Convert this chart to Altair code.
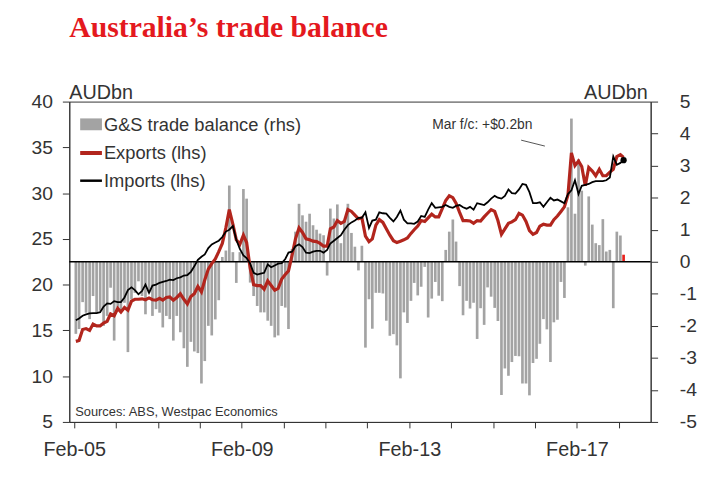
import altair as alt
import pandas as pd

# ---------------- data (monthly, Feb-05 .. Mar-18) ----------------
months = pd.date_range("2005-02-01", periods=158, freq="MS")
dates = [f"{d.year}-{d.month:02d}-15T00:00:00" for d in months]

exports = [
    13.8, 13.9, 15.1, 15.2, 15.0, 15.7, 15.5, 15.5, 15.8, 16.0,
    16.8, 16.6, 17.4, 17.0, 17.5, 17.2, 18.2, 18.4, 18.4, 18.45,
    18.35, 18.55, 18.35, 18.3, 18.5, 18.3, 18.6, 18.65, 18.3, 18.6,
    19.0, 18.4, 17.9, 18.7, 19.0, 19.8, 19.2, 20.5, 21.7, 22.3,
    22.8, 23.6, 24.5, 26.2, 28.2, 26.6, 24.9, 24.4, 25.4, 24.6,
    21.8, 20.0, 19.9, 19.9, 19.5, 20.4, 19.9, 19.4, 19.6, 20.6,
    21.1, 21.5, 23.2, 25.0, 26.2, 25.7, 25.0, 24.9, 24.75, 24.7,
    24.5, 24.2, 24.2, 26.1, 26.3, 27.0, 26.7, 26.9, 28.2, 28.0,
    27.6, 27.2, 27.3, 25.3, 24.7, 25.0, 26.5, 27.1, 26.8, 26.1,
    25.4, 24.8, 24.6, 24.75, 24.9, 25.1, 25.6, 26.0, 26.4, 27.0,
    26.9, 27.3, 27.7, 27.4, 27.4, 28.3, 29.2, 29.7, 29.5, 28.9,
    27.9, 27.0, 27.0, 26.95, 26.7, 27.0, 26.95, 27.4, 27.8, 28.2,
    28.0, 27.0, 25.5, 26.1, 26.7, 26.85, 27.1, 27.8, 27.6, 26.9,
    25.9, 25.5, 25.7, 26.4, 26.6, 26.5, 26.5, 27.1, 27.5, 28.0,
    28.5, 29.8, 34.4, 33.0, 33.5, 32.9, 30.8, 32.8, 32.4, 31.9,
    32.6, 31.9, 31.9, 32.3, 32.6, 34.0, 34.2, 33.9,
]

imports = [
    16.1, 16.3, 16.6, 16.75, 16.85, 16.9, 16.9, 17.0, 17.6, 17.95,
    17.9, 18.2, 18.1, 18.1, 18.6, 19.4, 19.7, 19.4, 18.95, 19.3,
    20.0, 19.1, 19.9, 20.0, 20.2, 20.3, 20.4, 20.55, 20.5, 20.7,
    20.8, 21.0, 21.05, 21.4, 22.0, 22.7, 23.05, 23.3, 24.0, 24.4,
    24.6, 24.8, 25.2, 25.8, 26.0, 26.4, 24.9, 23.9, 23.2, 22.9,
    22.3, 21.3, 21.1, 21.2, 21.3, 22.2, 21.9, 22.1, 22.3, 22.35,
    22.8, 23.5, 23.6, 24.2, 24.4, 24.1, 23.5, 23.45, 23.6, 23.7,
    23.7, 23.5, 23.8, 24.5, 24.8, 25.1, 25.4, 26.0, 26.5, 26.8,
    27.0, 27.3, 27.3, 27.9, 26.2, 27.0, 27.1, 27.9, 27.8, 27.75,
    27.3, 26.9, 27.4, 28.1, 27.1, 26.7, 26.7, 26.65, 26.9, 27.5,
    27.4, 28.2, 28.9, 28.4, 28.45, 28.5, 28.7, 28.5, 28.4, 28.6,
    28.7, 28.45, 28.3, 28.5, 28.2, 28.9, 28.8, 28.7, 29.0, 29.4,
    29.7, 29.5, 29.4, 29.7, 30.4, 30.0, 29.95, 30.4, 31.0, 30.9,
    30.1, 28.9, 28.9, 29.0, 28.5, 29.0, 29.5, 29.2, 29.3, 29.1,
    28.9, 29.9, 30.3, 31.4, 29.9, 30.8, 30.9, 31.0, 31.2, 31.3,
    31.3, 31.3, 31.4, 31.7, 34.0, 33.1, 33.3, 33.6,
]

balance = [
    -2.25, -2.1, -1.26, -1.59, -1.79, -1.07, -1.59, -1.53, -2.0, -1.69,
    -0.81, -2.46, -1.42, -1.53, -1.28, -2.82, -1.17, -0.97, -0.61, -1.07,
    -1.64, -0.97, -1.69, -1.48, -1.59, -2.05, -1.69, -1.79, -2.46, -1.69,
    -2.2, -2.7, -3.28, -2.5, -2.8, -2.85, -3.8, -3.1, -2.0, -2.3,
    -1.8, -1.2, 0.15, 0.35, 2.38, 0.3, -0.66, 0.3, 2.27, 1.97,
    -0.65, -1.07, -1.38, -1.58, -1.58, -1.84, -2.0, -2.36, -2.3, -1.38,
    -1.43, -2.1, 0.4, 0.94, 1.81, 1.45, 1.25, 1.5, 1.14, 1.0,
    0.88, 0.83, -0.43, 1.66, 1.35, 1.79, 0.58, 1.3, 1.81, 0.9,
    0.47, -0.27, 0.5, -2.68, -1.17, -2.09, -0.97, -0.97, -0.99, -1.84,
    -2.31, -2.26, -2.61, -3.64, -1.58, -1.91, -1.22, -0.66, -1.05, -0.78,
    -0.16, -1.74, -1.15, -0.63, -1.06, -1.23, 0.37, 0.94, 1.32, 0.63,
    -0.76, -1.67, -1.22, -1.46, -1.28, -2.41, -1.45, -1.97, -0.8, -1.09,
    -1.44, -1.85, -4.16, -3.33, -3.56, -3.13, -2.94, -2.95, -3.8, -3.8,
    -4.17, -3.16, -3.03, -2.56, -1.79, -2.11, -3.13, -1.89, -1.81, -0.63,
    -1.13, 1.7, 4.47, 1.5, 3.2, 2.22, -0.12, 2.04, 1.16, 0.58,
    0.52, 1.33, 0.32, 0.37, -1.45, 0.94, 0.82, 0.22,
]

kind = ["actual"] * 157 + ["forecast"]

left_ticks = [5, 10, 15, 20, 25, 30, 35, 40]
right_ticks = [-5, -4, -3, -2, -1, 0, 1, 2, 3, 4, 5]
tick_years = list(range(2005, 2019))

df = pd.DataFrame({"date": dates, "exports": exports, "imports": imports,
                   "balance": balance, "kind": kind})

W, H = 588, 324
FONT = "Liberation Sans"
TXT = "#333333"
GREY = "#a3a3a3"
DARKRED = "#b2251d"
FCRED = "#e8211c"

x_scale = alt.Scale(domain=[alt.DateTime(year=2005, month=2, date=1),
                            alt.DateTime(year=2018, month=9, date=24)])
x_axis = alt.Axis(
    title=None, orient="bottom",
    values=[alt.DateTime(year=y, month=2, date=1) for y in tick_years],
    labelExpr="(year(datum.value) - 2005) % 4 == 0 ? timeFormat(datum.value, '%b-%y') : ''",
    labelFlush=False, labelOverlap=False, tickSize=6, labelPadding=12,
    labelFontSize=20,
)
x_enc = alt.X("date:T", scale=x_scale, axis=x_axis)

right_scale = alt.Scale(domain=[-5, 5], nice=False)
right_axis = alt.Axis(title=None, orient="right", values=right_ticks,
                      labelExpr="'' + datum.value", tickSize=7, labelPadding=22,
                      labelFontSize=19.5)
left_scale = alt.Scale(domain=[5, 40], nice=False, zero=False)
left_axis = alt.Axis(title=None, orient="left", values=left_ticks,
                     tickSize=7, labelPadding=10, labelFontSize=19.5)

bars = alt.Chart(df).mark_bar(size=2.7).encode(
    x=x_enc,
    y=alt.Y("balance:Q", scale=right_scale, axis=right_axis, stack=None),
    color=alt.Color("kind:N", scale=alt.Scale(domain=["actual", "forecast"],
                                              range=[GREY, FCRED]), legend=None),
)
zero = alt.Chart(pd.DataFrame({"balance": [0]})).mark_rule(
    color="black", strokeWidth=1.3
).encode(y=alt.Y("balance:Q", scale=right_scale, axis=right_axis))
bar_layer = alt.layer(bars, zero)

exp_line = alt.Chart(df).mark_line(color=DARKRED, strokeWidth=3.2).encode(
    x=x_enc, y=alt.Y("exports:Q", scale=left_scale, axis=left_axis))
imp_line = alt.Chart(df).mark_line(color="black", strokeWidth=1.8).encode(
    x=x_enc, y=alt.Y("imports:Q", scale=left_scale, axis=left_axis))
dot = alt.Chart(df.tail(1)).mark_circle(size=40, color="black", opacity=1).encode(
    x=x_enc, y=alt.Y("imports:Q", scale=left_scale, axis=left_axis))
line_layer = alt.layer(exp_line, imp_line, dot)

one = pd.DataFrame({"a": [0]})

def label(text, x, y, size, align="left", color=TXT, font=FONT, weight="normal"):
    return alt.Chart(one).mark_text(
        text=text, align=align, baseline="alphabetic", fontSize=size,
        font=font, color=color, fontWeight=weight
    ).encode(x=alt.value(x), y=alt.value(y))

title = label("Australia\u2019s trade balance", 0, -65, 30, color="#e4191e",
              font="Liberation Serif", weight="bold")
aud_l = label("AUDbn", 0, -3, 20)
aud_r = label("AUDbn", 585, -3, 20, align="right")
sources = label("Sources: ABS, Westpac Economics", 6, 318, 13)
fc_text = label("Mar f/c: +$0.2bn", 367, 28, 14)
fc_line = alt.Chart(one).mark_rule(color="#555555", strokeWidth=1).encode(
    x=alt.value(457), x2=alt.value(481), y=alt.value(39), y2=alt.value(45))

leg_box = alt.Chart(one).mark_rect(color=GREY).encode(
    x=alt.value(11), x2=alt.value(33), y=alt.value(17), y2=alt.value(29))
leg_t1 = label("G&S trade balance (rhs)", 35, 30, 18.5)
leg_exp = alt.Chart(one).mark_rule(color=DARKRED, strokeWidth=4).encode(
    x=alt.value(11), x2=alt.value(33), y=alt.value(52))
leg_t2 = label("Exports (lhs)", 35, 58.5, 18.5)
leg_imp = alt.Chart(one).mark_rule(color="black", strokeWidth=2.5).encode(
    x=alt.value(11), x2=alt.value(33), y=alt.value(80))
leg_t3 = label("Imports (lhs)", 35, 86.5, 18.5)

chart = alt.layer(
    bar_layer, line_layer,
    title, aud_l, aud_r, sources, fc_text, fc_line,
    leg_box, leg_t1, leg_exp, leg_t2, leg_imp, leg_t3,
).resolve_scale(y="independent").properties(
    width=W, height=H,
    autosize=alt.AutoSizeParams(type="none"),
    padding={"left": 62, "top": 92, "right": 60, "bottom": 50},
).configure_axis(
    labelFont=FONT, labelFontSize=18, labelColor=TXT,
    domainColor=TXT, tickColor=TXT, grid=False,
).configure_view(stroke=TXT, strokeWidth=1)

chart.save("out.html", embed_options={"renderer": "svg", "actions": False})
